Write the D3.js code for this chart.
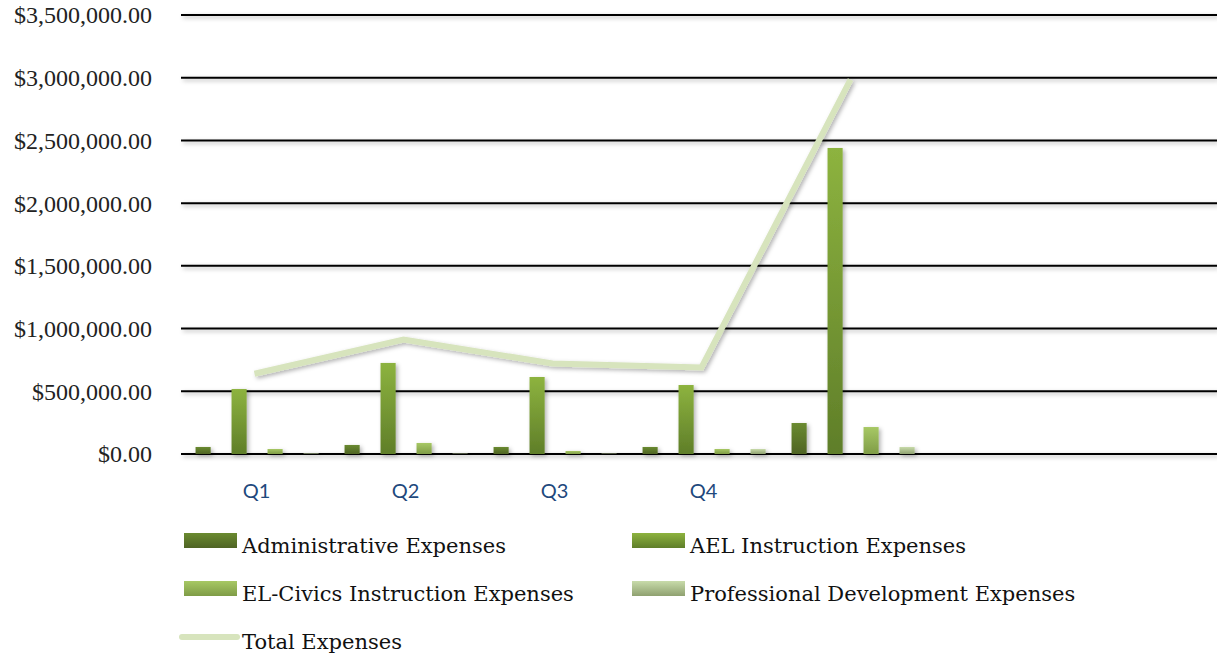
<!DOCTYPE html>
<html>
<head>
<meta charset="utf-8">
<script src="https://cdn.jsdelivr.net/npm/d3@7"></script>
<style>
    body { margin: 0; background: #fff; }
    svg { display: block; }
</style>
</head>
<body>
<div id="chart"></div>
<script>
// Chart data
const categories = ["Q1", "Q2", "Q3", "Q4", "Total", "c6", "c7"];
const tickLabels = ["Q1", "Q2", "Q3", "Q4", "", "", ""];
const seriesNames = [
    "Administrative Expenses",
    "AEL Instruction Expenses",
    "EL-Civics Instruction Expenses",
    "Professional Development Expenses"
];
const adminValues = [56000, 72000, 56000, 56000, 247000];
const aelValues = [518000, 726000, 614000, 550000, 2440000];
const civicsValues = [40000, 88000, 24000, 40000, 215000];
const profDevValues = [4000, 3000, 3000, 40000, 56000];
const totalValues = [640000, 912000, 722000, 690000, 2985000];
const yTicks = [0, 500000, 1000000, 1500000, 2000000, 2500000, 3000000, 3500000];

const barSeries = [adminValues, aelValues, civicsValues, profDevValues];
const gradients = [
    ["#6a8a30", "#4f6424"],
    ["#8db33f", "#5f7e29"],
    ["#a7c864", "#7f9c47"],
    ["#c8dbaa", "#8fa170"]
];

const W = 1217, H = 662;
const plot = { left: 180, right: 1217, top: 15, bottom: 454 };

const svg = d3.select("#chart").append("svg")
    .attr("width", W)
    .attr("height", H);

const defs = svg.append("defs");
gradients.forEach((g, i) => {
    const lg = defs.append("linearGradient")
        .attr("id", "grad" + i)
        .attr("x1", 0).attr("y1", 0).attr("x2", 0).attr("y2", 1);
    lg.append("stop").attr("offset", "0%").attr("stop-color", g[0]);
    lg.append("stop").attr("offset", "100%").attr("stop-color", g[1]);
});
const shadow = defs.append("filter").attr("id", "shadow")
    .attr("filterUnits", "userSpaceOnUse")
    .attr("x", 0).attr("y", 0).attr("width", W).attr("height", H);
shadow.append("feDropShadow")
    .attr("dx", 2).attr("dy", 2).attr("stdDeviation", 2)
    .attr("flood-color", "#000").attr("flood-opacity", 0.3);

// Scales
const x0 = d3.scaleBand()
    .domain(categories)
    .range([plot.left, plot.left + 7 * 149]);

const x1 = d3.scaleBand()
    .domain(seriesNames)
    .range([0, x0.bandwidth()])
    .paddingInner(0.58)
    .paddingOuter(0.36)
    .align(0.6);

const y = d3.scaleLinear()
    .domain([0, 3500000])
    .range([plot.bottom, plot.top]);

const fmt = d3.format("$,.2f");

// Grid lines
svg.append("g")
    .selectAll("line")
    .data(yTicks)
    .join("line")
    .attr("x1", plot.left + 1)
    .attr("x2", plot.right)
    .attr("y1", d => y(d))
    .attr("y2", d => y(d))
    .attr("stroke", "#000")
    .attr("stroke-width", 2)
    .attr("filter", "url(#shadow)");

// Y axis labels
const yAxis = d3.axisLeft(y)
    .tickValues(yTicks)
    .tickFormat(fmt)
    .tickSize(0)
    .tickPadding(0);

svg.append("g")
    .attr("transform", `translate(152,0)`)
    .call(yAxis)
    .call(g => g.select(".domain").remove())
    .selectAll("text")
    .style("font-family", "'Liberation Serif', serif")
    .style("font-size", "24px")
    .attr("fill", "#222")
    .attr("dy", "0.33em");

// X axis labels
const xAxis = d3.axisBottom(x0)
    .tickFormat((d, i) => tickLabels[i])
    .tickSize(0)
    .tickPadding(0);

svg.append("g")
    .attr("transform", `translate(2,${plot.bottom + 44})`)
    .call(xAxis)
    .call(g => g.select(".domain").remove())
    .selectAll("text")
    .style("font-family", "Lato, 'Open Sans', sans-serif")
    .style("font-size", "20px")
    .attr("fill", "#1f497d")
    .attr("dy", "0");

// Bars
const barData = [];
barSeries.forEach((vals, s) => {
    vals.forEach((v, i) => {
        barData.push({ cat: categories[i], series: seriesNames[s], s: s, value: v });
    });
});

svg.append("g")
    .selectAll("rect")
    .data(barData)
    .join("rect")
    .attr("x", d => x0(d.cat) + x1(d.series))
    .attr("width", x1.bandwidth())
    .attr("y", d => y(d.value))
    .attr("height", d => y(0) - y(d.value))
    .attr("fill", d => `url(#grad${d.s})`)
    .attr("filter", "url(#shadow)");

// Total line
const line = d3.line()
    .x((d, i) => x0(categories[i]) + x0.bandwidth() / 2)
    .y(d => y(d));

svg.append("path")
    .datum(totalValues)
    .attr("d", line)
    .attr("fill", "none")
    .attr("stroke", "#d7e4bd")
    .attr("stroke-width", 6)
    .attr("filter", "url(#shadow)");

// Legend
const legendItems = seriesNames.map((name, i) => ({ name, type: "bar", s: i }))
    .concat([{ name: "Total Expenses", type: "line" }]);

const legend = svg.append("g")
    .selectAll("g")
    .data(legendItems)
    .join("g")
    .attr("transform", (d, i) => `translate(${i % 2 === 0 ? 184 : 632},${533 + Math.floor(i / 2) * 48})`);

legend.filter(d => d.type === "bar")
    .append("rect")
    .attr("width", 53)
    .attr("height", 15)
    .attr("fill", d => `url(#grad${d.s})`);

legend.filter(d => d.type === "line")
    .append("line")
    .attr("x1", -2).attr("x2", 53)
    .attr("y1", 8).attr("y2", 8)
    .attr("stroke", "#d7e4bd")
    .attr("stroke-width", 6)
    .attr("stroke-linecap", "round");

legend.append("text")
    .attr("x", 58)
    .attr("y", 20)
    .style("font-family", "'DejaVu Serif', serif")
    .style("font-size", "21px")
    .attr("fill", "#111")
    .text(d => d.name);
</script>
</body>
</html>
